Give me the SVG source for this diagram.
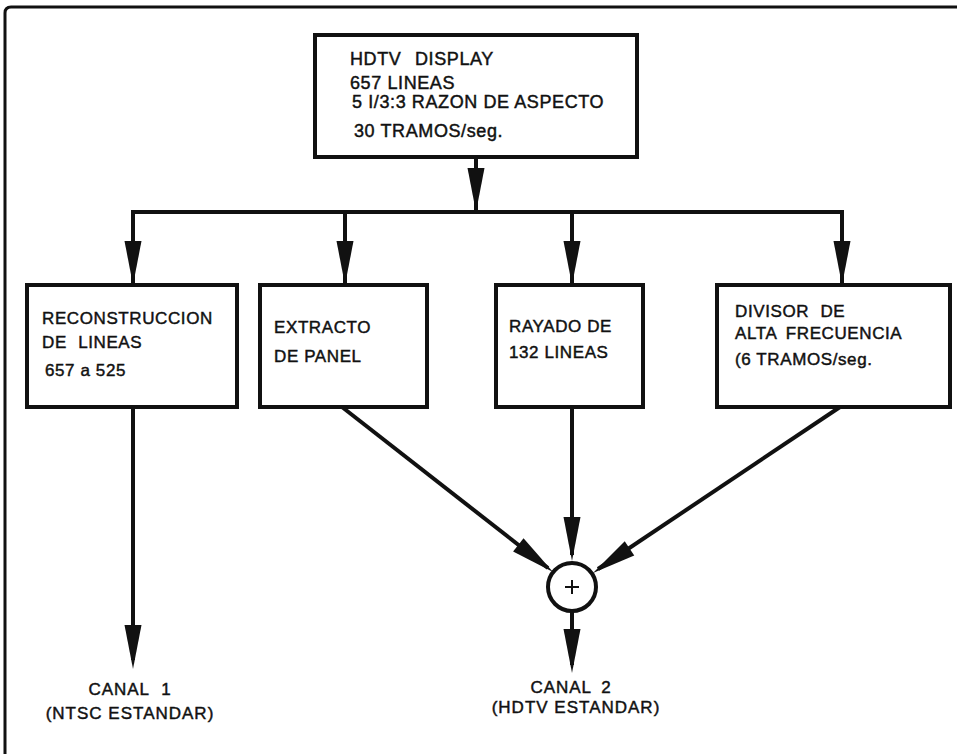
<svg xmlns="http://www.w3.org/2000/svg" width="957" height="754" viewBox="0 0 957 754">
  <style>
    .box { fill: #fff; stroke: #111; stroke-width: 4; }
    .wire { fill: none; stroke: #111; stroke-width: 4; }
    .head { fill: #111; stroke: none; }
    text { font-family: "Liberation Sans", Arial, sans-serif; fill: #111; stroke: #111; stroke-width: 0.45px; letter-spacing: 0.6px; }
    .t18 { font-size: 18px; }
    .t17 { font-size: 17px; }
    .lbl { font-size: 17px; text-anchor: middle; letter-spacing: 1px; }
  </style>
  <defs>
    <!-- long narrow arrowhead, tip at origin pointing +x -->
    <path id="ah" d="M0,0 L-44,-8.5 L-44,8.5 Z"/>
  </defs>
  <rect width="957" height="754" fill="#fff"/>

  <!-- outer frame: only top and left edges -->
  <path d="M5,760 L5,13 Q5,7 11,7 L962,7" fill="none" stroke="#111" stroke-width="3"/>

  <g id="connectors">
    <!-- display to distribution bus -->
    <line class="wire" x1="476" y1="157" x2="476" y2="212"/>
    <use href="#ah" class="head" transform="translate(476,212) rotate(90)"/>
    <line class="wire" x1="131" y1="212" x2="844" y2="212"/>
    <!-- bus to the four blocks -->
    <line class="wire" x1="133" y1="212" x2="133" y2="285"/>
    <use href="#ah" class="head" transform="translate(133,285) rotate(90)"/>
    <line class="wire" x1="345" y1="212" x2="345" y2="285"/>
    <use href="#ah" class="head" transform="translate(345,285) rotate(90)"/>
    <line class="wire" x1="572" y1="212" x2="572" y2="285"/>
    <use href="#ah" class="head" transform="translate(572,285) rotate(90)"/>
    <line class="wire" x1="842" y1="212" x2="842" y2="285"/>
    <use href="#ah" class="head" transform="translate(842,285) rotate(90)"/>
    <!-- channel 1 output -->
    <line class="wire" x1="133" y1="407" x2="133" y2="660"/>
    <use href="#ah" class="head" transform="translate(133,669) rotate(90)"/>
    <!-- inputs to the adder -->
    <line class="wire" x1="342" y1="407" x2="548" y2="568"/>
    <use href="#ah" class="head" transform="translate(553,572) rotate(38)"/>
    <line class="wire" x1="572" y1="407" x2="572" y2="555"/>
    <use href="#ah" class="head" transform="translate(572,561) rotate(90)"/>
    <line class="wire" x1="840" y1="407" x2="598" y2="569"/>
    <use href="#ah" class="head" transform="translate(593,573) rotate(146)"/>
    <!-- channel 2 output -->
    <line class="wire" x1="572" y1="612" x2="572" y2="665"/>
    <use href="#ah" class="head" transform="translate(572,673) rotate(90)"/>
  </g>

  <g id="hdtv-display">
    <rect class="box" x="315" y="35" width="322" height="122"/>
    <text class="t18" x="350" y="65" word-spacing="8">HDTV DISPLAY</text>
    <text class="t18" x="350" y="89">657 LINEAS</text>
    <text class="t18" x="352" y="108">5 I/3:3 RAZON DE ASPECTO</text>
    <text class="t18" x="354" y="137">30 TRAMOS/seg.</text>
  </g>

  <g id="reconstruccion">
    <rect class="box" x="27" y="285" width="210" height="122"/>
    <text class="t17" x="42" y="324">RECONSTRUCCION</text>
    <text class="t17" x="42" y="348" word-spacing="6">DE LINEAS</text>
    <text class="t17" x="45" y="376">657 a 525</text>
  </g>

  <g id="extracto">
    <rect class="box" x="260" y="285" width="167" height="122"/>
    <text class="t17" x="274" y="333">EXTRACTO</text>
    <text class="t17" x="274" y="362">DE PANEL</text>
  </g>

  <g id="rayado">
    <rect class="box" x="496" y="285" width="147" height="122"/>
    <text class="t17" x="509" y="332">RAYADO DE</text>
    <text class="t17" x="509" y="358">132 LINEAS</text>
  </g>

  <g id="divisor">
    <rect class="box" x="717" y="285" width="233" height="122"/>
    <text class="t17" x="735" y="317" word-spacing="6">DIVISOR DE</text>
    <text class="t17" x="735" y="339" word-spacing="4">ALTA FRECUENCIA</text>
    <text class="t17" x="735" y="365">(6 TRAMOS/seg.</text>
  </g>

  <g id="sumador">
    <circle cx="572" cy="587" r="24" fill="#fff" stroke="#111" stroke-width="4"/>
    <path d="M565,587 H579 M572,580 V594" stroke="#111" stroke-width="2" fill="none"/>
  </g>

  <g id="canal-1">
    <text class="lbl" x="130" y="695" word-spacing="6">CANAL 1</text>
    <text class="lbl" x="130" y="719">(NTSC ESTANDAR)</text>
  </g>

  <g id="canal-2">
    <text class="lbl" x="571" y="693" word-spacing="4">CANAL 2</text>
    <text class="lbl" x="576" y="713">(HDTV ESTANDAR)</text>
  </g>
</svg>
